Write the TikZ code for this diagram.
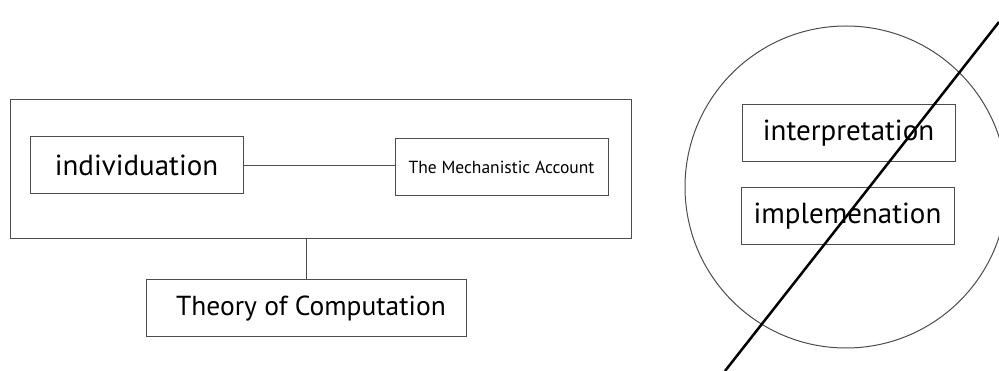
\documentclass[tikz,border=0pt]{standalone}
\usepackage{fontspec}
\setmainfont{PT Sans}
\begin{document}
\begin{tikzpicture}[x=1pt,y=-1pt,line width=1pt,
  box/.style={draw=black!70,rectangle,inner sep=0pt,minimum width=213pt,minimum height=57pt,font=\fontsize{29}{33}\selectfont},
  link/.style={draw=black!70}]
  \useasboundingbox (0,0) rectangle (999,371);
  % left part: frame with two boxes, joined to the theory box below
  \node[draw=black!70,inner sep=0pt,minimum width=621pt,minimum height=139pt] (frame) at (320.5,169) {};
  \node[box] (indiv) at (136.5,165.5) {individuation};
  \node[box,font=\fontsize{17.5}{20}\selectfont] (mech) at (501.5,167) {The Mechanistic Account};
  \node[box,minimum width=320pt,font=\fontsize{27.5}{31}\selectfont] (theory) at (306,308.5) {\hspace*{10pt}Theory of Computation};
  \draw[link] (indiv.east) -- (indiv.east -| mech.west);
  \draw[link] (theory.north |- frame.south) -- (theory.north);
  % right part: circle with two boxes, struck through
  \node[draw=black!70,circle,inner sep=0pt,minimum size=322pt] (ring) at (846,187) {};
  \node[box] (interp) at (848.5,133) {interpretation};
  \node[box] (implem) at (847.5,216) {implemenation};
  \coordinate (cutlow) at (725,371);
  \coordinate (cuthigh) at (999,22);
  \draw[line width=2.5pt] (cutlow) -- (cuthigh);
\end{tikzpicture}
\end{document}
